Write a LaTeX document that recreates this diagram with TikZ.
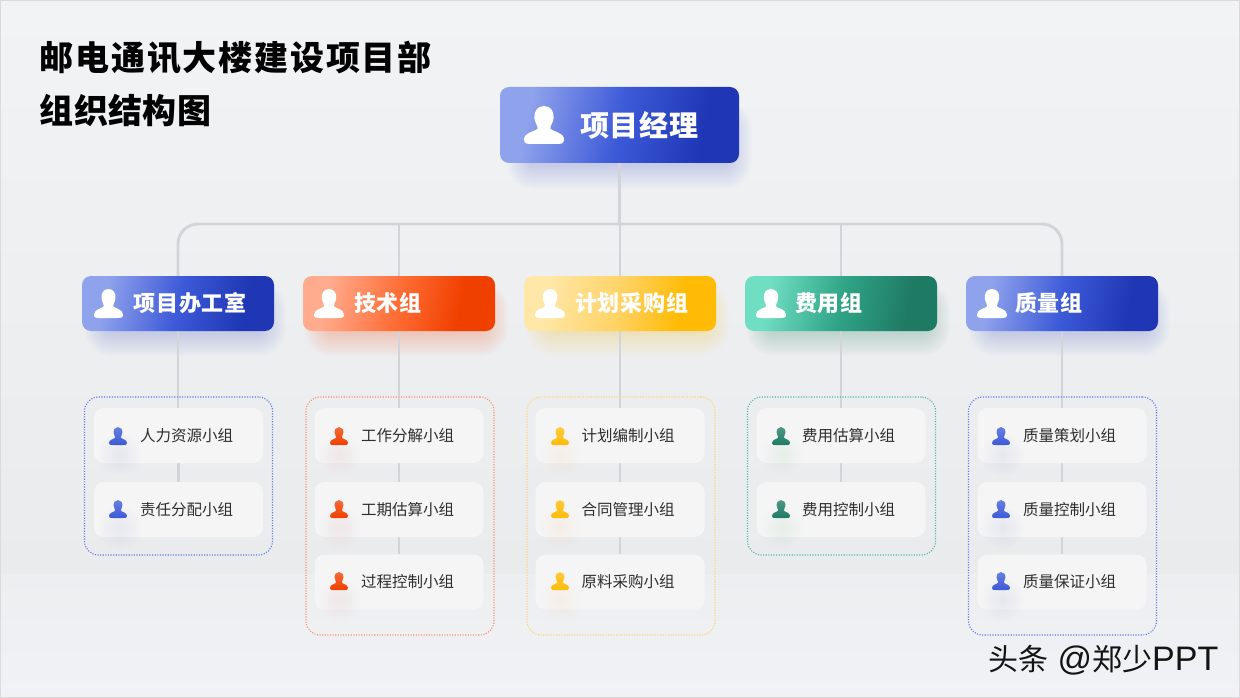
\documentclass[tikz,border=0pt]{standalone}
\usepackage{fontspec}
\setmainfont{Noto Sans CJK SC}
\newfontfamily\titlefont[LetterSpace=5.3]{Noto Sans CJK SC}
\newfontfamily\subtitlefont[LetterSpace=1.2]{Noto Sans CJK SC}
\newfontfamily\bossfont[LetterSpace=2.6]{Noto Sans CJK SC}
\newfontfamily\headfont[LetterSpace=3.5]{Noto Sans CJK SC}
\newfontfamily\marklatin{Liberation Sans}
\usetikzlibrary{positioning,calc}
\pgfdeclarelayer{background}
\pgfsetlayers{background,main}
\definecolor{bluea}{HTML}{8FA2EC}\definecolor{blueb}{HTML}{3D5AD8}\definecolor{bluec}{HTML}{1F37B4}
\definecolor{orga}{HTML}{FFAB8E}\definecolor{orgb}{HTML}{FE6C34}\definecolor{orgc}{HTML}{F04000}
\definecolor{yela}{HTML}{FFE7A8}\definecolor{yelb}{HTML}{FFD263}\definecolor{yelc}{HTML}{FFBB05}
\definecolor{grna}{HTML}{70DEC2}\definecolor{grnb}{HTML}{2FA486}\definecolor{grnc}{HTML}{1F7A64}
\definecolor{linegray}{HTML}{D3D4D7}
\definecolor{cardfill}{HTML}{F5F5F6}
\definecolor{bgtop}{HTML}{F2F3F5}\definecolor{bgmid}{HTML}{EAEBED}\definecolor{bglow}{HTML}{EDEEF0}\definecolor{bgend}{HTML}{F1F2F5}
\definecolor{bluedash}{HTML}{5F78EE}\definecolor{orgdash}{HTML}{FA9070}\definecolor{yeldash}{HTML}{FFD472}\definecolor{grndash}{HTML}{4FBAA0}
\pgfdeclarehorizontalshading{gblue}{100bp}{color(0bp)=(bluea);color(28bp)=(bluea);color(50bp)=(blueb);color(70bp)=(bluec);color(100bp)=(bluec)}
\pgfdeclarehorizontalshading{gorg}{100bp}{color(0bp)=(orga);color(28bp)=(orga);color(50bp)=(orgb);color(68bp)=(orgc);color(100bp)=(orgc)}
\pgfdeclarehorizontalshading{gyel}{100bp}{color(0bp)=(yela);color(28bp)=(yela);color(50bp)=(yelb);color(68bp)=(yelc);color(100bp)=(yelc)}
\pgfdeclarehorizontalshading{ggrn}{100bp}{color(0bp)=(grna);color(28bp)=(grna);color(50bp)=(grnb);color(70bp)=(grnc);color(100bp)=(grnc)}
\newcommand{\boxlift}[1]{\raisebox{1pt}{#1}}
\newcommand{\cardlower}[1]{\raisebox{-0.7pt}{#1}}
\tikzset{
  x=1pt,y=-1pt,
  gradblue/.style={shade,shading=gblue,shading angle=-12},
  gradorg/.style={shade,shading=gorg,shading angle=-12},
  gradyel/.style={shade,shading=gyel,shading angle=-12},
  gradgrn/.style={shade,shading=ggrn,shading angle=-12},
  bossbox/.style={rectangle,rounded corners=9pt,inner sep=0pt,text width=239pt,minimum height=76pt,align=left,text=white,font=\bossfont\bfseries\fontsize{29}{34}\selectfont},
  headbox/.style={rectangle,rounded corners=9pt,inner sep=0pt,text width=192pt,minimum height=55pt,align=left,text=white,font=\headfont\bfseries\fontsize{22}{26}\selectfont},
  groupbox/.style={rectangle,rounded corners=14pt,dash pattern=on 1.1pt off 1.5pt,line width=1.1pt,inner sep=0pt,minimum width=188pt},
  card/.style={rectangle,rounded corners=10pt,fill=cardfill,inner sep=0pt,text width=169pt,minimum height=55pt,align=left,text=black!82,font=\fontsize{15.5}{19}\selectfont},
  link/.style={draw=linegray,line width=2.9pt},
  titletext/.style={anchor=west,inner sep=0pt,text=black,font=\titlefont\bfseries\fontsize{34}{40}\selectfont},
  subtitletext/.style={anchor=west,inner sep=0pt,text=black,font=\subtitlefont\bfseries\fontsize{34}{40}\selectfont},
  marktext/.style={anchor=west,inner sep=0pt,text=black!92,font=\fontsize{30}{36}\selectfont},
}
% person icon: x y w h fill-style
\newcommand{\personicon}[5]{%
  \begin{scope}[shift={(#1,#2)},x=#3pt,y=-#4pt]
  \path[#5] (0.5,0) .. controls (0.67,0) and (0.76,0.15) .. (0.74,0.32)
    .. controls (0.72,0.46) and (0.65,0.53) .. (0.66,0.59)
    .. controls (0.70,0.67) and (1,0.69) .. (1,0.88)
    .. controls (1,1) and (.92,1) .. (.8,1) -- (.2,1)
    .. controls (.08,1) and (0,1) .. (0,.88)
    .. controls (0,.69) and (.30,.67) .. (.34,.59)
    .. controls (.35,.53) and (.28,.46) .. (.26,.32)
    .. controls (.24,.15) and (.33,0) .. (.5,0) -- cycle;
  \end{scope}}
% soft shadow: x0 y0 x1 y1 colour
\newcommand{\softshadow}[5]{%
  \foreach \i in {0,2,...,24}{%
    \fill[#5,opacity=0.024,rounded corners=\i pt+4pt] (#1-\i,#2-\i) rectangle (#3+\i,#4+\i);}}
% icon glow on a card: cx cy colour
\newcommand{\cardglow}[3]{%
  \foreach \i in {3,6,...,21}{%
    \fill[#3,opacity=0.007] (#1,#2) circle (\i pt);}}
\newcommand{\smallperson}[3]{\personicon{#1}{#2}{18}{18}{top color=#3!78!white,bottom color=#3}}
\begin{document}
\begin{tikzpicture}
\useasboundingbox (0,0) rectangle (1240,698);
% titles
\node[titletext] (title1) at (39.5,58) {邮电通讯大楼建设项目部};
\node[subtitletext] (title2) at (39.5,110) {组织结构图};
% top box
\node[bossbox,gradblue] (boss) at (619.5,125) {\hspace*{80pt}\boxlift{项目经理}};
\personicon{524}{106}{40}{38}{fill=white}
% heads
\node[headbox,gradblue] (h1) at (178,303.5) {\hspace*{51.5pt}\boxlift{项目办工室}};
\node[headbox,gradorg] (h2) at (399,303.5) {\hspace*{51pt}\boxlift{技术组}};
\node[headbox,gradyel] (h3) at (620,303.5) {\hspace*{51pt}\boxlift{计划采购组}};
\node[headbox,gradgrn] (h4) at (841,303.5) {\hspace*{50pt}\boxlift{费用组}};
\node[headbox,gradblue] (h5) at (1062,303.5) {\hspace*{49pt}\boxlift{质量组}};
\personicon{94}{289}{29}{29}{fill=white}
\personicon{314}{289}{30}{29}{fill=white}
\personicon{535}{289}{30}{29}{fill=white}
\personicon{756}{289}{30}{29}{fill=white}
\personicon{977}{289}{30}{29}{fill=white}
% groups
\node[groupbox,draw=bluedash,minimum height=158pt] (g1) at (178.5,476) {};
\node[groupbox,draw=orgdash,minimum height=238pt] (g2) at (400,516) {};
\node[groupbox,draw=yeldash,minimum height=238pt] (g3) at (621,516) {};
\node[groupbox,draw=grndash,minimum height=158pt] (g4) at (841.5,476) {};
\node[groupbox,draw=bluedash,minimum height=238pt] (g5) at (1062.5,516) {};
% cards
\node[card] (a1) at (178.5,435.5) {\hspace*{46pt}\cardlower{人力资源小组}};
\node[card] (a2) at (178.5,509.5) {\hspace*{46pt}\cardlower{责任分配小组}};
\node[card] (b1) at (399,435.5) {\hspace*{46.5pt}\cardlower{工作分解小组}};
\node[card] (b2) at (399,509.5) {\hspace*{46.5pt}\cardlower{工期估算小组}};
\node[card] (b3) at (399,582) {\hspace*{46.5pt}\cardlower{过程控制小组}};
\node[card] (c1) at (620,435.5) {\hspace*{46pt}\cardlower{计划编制小组}};
\node[card] (c2) at (620,509.5) {\hspace*{46pt}\cardlower{合同管理小组}};
\node[card] (c3) at (620,582) {\hspace*{46pt}\cardlower{原料采购小组}};
\node[card] (d1) at (841,435.5) {\hspace*{45.5pt}\cardlower{费用估算小组}};
\node[card] (d2) at (841,509.5) {\hspace*{45.5pt}\cardlower{费用控制小组}};
\node[card] (e1) at (1062,435.5) {\hspace*{45.5pt}\cardlower{质量策划小组}};
\node[card] (e2) at (1062,509.5) {\hspace*{45.5pt}\cardlower{质量控制小组}};
\node[card] (e3) at (1062,582) {\hspace*{45.5pt}\cardlower{质量保证小组}};
% glows and small icons
\foreach \gx/\gc/\px in {120/blueb/109,340/orgc/330,561/yelc/551,782/grnc/772,1003/blueb/992}{%
  \cardglow{\gx}{455}{\gc}\cardglow{\gx}{528}{\gc}
  \smallperson{\px}{427}{\gc}\smallperson{\px}{500}{\gc}}
\foreach \gx/\gc/\px in {340/orgc/330,561/yelc/551,1003/blueb/992}{%
  \cardglow{\gx}{600}{\gc}
  \smallperson{\px}{572}{\gc}}
% watermark
\node[marktext] (mark) at (988,660) {头条{\marklatin\fontsize{34}{36}\selectfont{} @}郑少{\marklatin\fontsize{34}{36}\selectfont PPT}};
\coordinate (hub) at (619.5,224);
\begin{pgfonlayer}{background}
  \shade[top color=bgtop,bottom color=bgmid] (0,0) rectangle (1240,574);
  \shade[top color=bglow,bottom color=bgend] (0,574) rectangle (1240,698);
  \draw[white!86!black,line width=1.2pt] (0.5,0.5) rectangle (1239.5,697.5);
  \softshadow{530}{125}{728}{165}{blueb!80!white}
  \softshadow{108}{305}{262}{332}{blueb!80!white}
  \softshadow{328}{305}{484}{332}{orgc!80!white}
  \softshadow{550}{305}{705}{332}{yelc!80!white}
  \softshadow{770}{305}{926}{332}{grnc!80!white}
  \softshadow{992}{305}{1146}{332}{blueb!80!white}
  \draw[link] (boss.south) -- (hub);
  \draw[link,rounded corners=20pt] (h1.north) -- (h1.north |- hub) -- (h5.north |- hub) -- (h5.north);
  \draw[link] (h2.north) -- (h2.north |- hub);
  \draw[link] (h3.north) -- (h3.north |- hub);
  \draw[link] (h4.north) -- (h4.north |- hub);
  \draw[link] (h1.south) -- (h1.south |- a1.north);
  \draw[link] (h2.south) -- (h2.south |- b1.north);
  \draw[link] (h3.south) -- (h3.south |- c1.north);
  \draw[link] (h4.south) -- (h4.south |- d1.north);
  \draw[link] (h5.south) -- (h5.south |- e1.north);
  \draw[link] (a1.south) -- (a1.south |- a2.north);
  \draw[link] (b1.south) -- (b1.south |- b2.north);
  \draw[link] (b2.south) -- (b2.south |- b3.north);
  \draw[link] (c1.south) -- (c1.south |- c2.north);
  \draw[link] (c2.south) -- (c2.south |- c3.north);
  \draw[link] (d1.south) -- (d1.south |- d2.north);
  \draw[link] (e1.south) -- (e1.south |- e2.north);
  \draw[link] (e2.south) -- (e2.south |- e3.north);
\end{pgfonlayer}
\end{tikzpicture}
\end{document}
